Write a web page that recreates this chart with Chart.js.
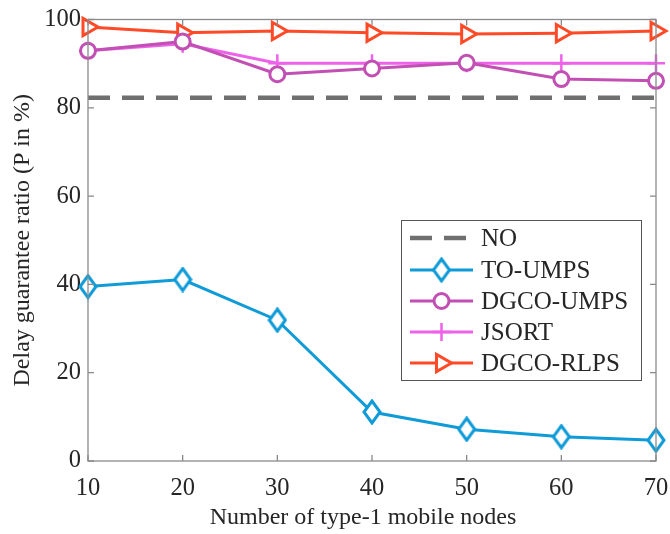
<!DOCTYPE html>
<html>
<head>
<meta charset="utf-8">
<script src="https://cdn.jsdelivr.net/npm/chart.js@4"></script>
<style>
html,body{margin:0;padding:0;background:#fff;}
#wrap{width:670px;height:534px;}
</style>
</head>
<body>
<div id="wrap"><canvas id="c" width="670" height="534"></canvas></div>
<script>
const categories = [10, 20, 30, 40, 50, 60, 70];
const noValues = [82.3, 82.3, 82.3, 82.3, 82.3, 82.3, 82.3];
const toUmps = [39.5, 41.1, 31.9, 11.1, 7.2, 5.5, 4.7];
const dgcoUmps = [92.9, 95.0, 87.6, 88.9, 90.2, 86.5, 86.1];
const jsort = [92.9, 94.5, 90.1, 90.1, 90.1, 90.1, 90.1];
const dgcoRlps = [98.3, 97.0, 97.4, 97.0, 96.7, 96.9, 97.4];
const yTicks = [0, 20, 40, 60, 80, 100];
const seriesNames = ['NO', 'TO-UMPS', 'DGCO-UMPS', 'JSORT', 'DGCO-RLPS'];
const xTitle = 'Number of type-1 mobile nodes';
const yTitle = 'Delay guarantee ratio (P in %)';

const FONT = '"Liberation Serif", "DejaVu Serif", serif';
const TXT = '#262626';
const AX = '#8a8a8a';

function diamond(color) {
  const c = document.createElement('canvas');
  c.width = 20; c.height = 26;
  const g = c.getContext('2d');
  g.beginPath();
  g.moveTo(10, 2); g.lineTo(18, 13); g.lineTo(10, 24); g.lineTo(2, 13); g.closePath();
  g.fillStyle = '#fff'; g.fill();
  g.lineWidth = 3; g.strokeStyle = color; g.stroke();
  return c;
}
const BLUE = '#0f9bd7', PURP = '#c24fb3', PINK = '#ee62ea', RED = '#ff4a28', GRAY = '#6f6f6f';
const diaImg = diamond(BLUE);

const xy = (arr) => arr.map((v, i) => ({x: categories[i], y: v}));

const boxPlugin = {
  id: 'box',
  afterDatasetsDraw(chart) {
    const {ctx, chartArea: a, scales} = chart;
    ctx.save();
    ctx.strokeStyle = AX; ctx.lineWidth = 1.3;
    ctx.strokeRect(a.left, a.top, a.right - a.left, a.bottom - a.top);
    const L = 6;
    ctx.beginPath();
    categories.forEach(v => {
      const x = scales.x.getPixelForValue(v);
      ctx.moveTo(x, a.bottom); ctx.lineTo(x, a.bottom - L);
      ctx.moveTo(x, a.top); ctx.lineTo(x, a.top + L);
    });
    yTicks.forEach(v => {
      const y = scales.y.getPixelForValue(v);
      ctx.moveTo(a.left, y); ctx.lineTo(a.left + L, y);
      ctx.moveTo(a.right, y); ctx.lineTo(a.right - L, y);
    });
    ctx.stroke();
    ctx.restore();
  },
  afterDraw(chart) {
    const {ctx} = chart;
    ctx.save();
    // x title
    ctx.fillStyle = TXT;
    ctx.font = '24px ' + FONT;
    ctx.textAlign = 'center'; ctx.textBaseline = 'middle';
    ctx.fillText(xTitle, 363, 518);
    // legend
    const bx = 401, by = 220, bw = 240, bh = 160;
    ctx.fillStyle = '#fff';
    ctx.fillRect(bx, by, bw, bh);
    ctx.strokeStyle = '#555'; ctx.lineWidth = 1;
    ctx.strokeRect(bx + 0.5, by + 0.5, bw, bh);
    const rows = [238, 270, 301, 332, 363];
    const x0 = 410, x1 = 473, xm = 441.5;
    chart.data.datasets.forEach((ds, i) => {
      const y = rows[i];
      ctx.strokeStyle = ds.borderColor; ctx.lineWidth = ds.borderWidth;
      ctx.setLineDash(ds.borderDash || []);
      ctx.beginPath(); ctx.moveTo(x0, y); ctx.lineTo(x1, y); ctx.stroke();
      ctx.setLineDash([]);
      if (ds.pointRadius > 0) {
        ctx.fillStyle = '#fff';
        ctx.strokeStyle = ds.borderColor;
        ctx.lineWidth = ds.pointBorderWidth;
        Chart.helpers.drawPoint(ctx, {
          pointStyle: ds.pointStyle, rotation: ds.pointRotation || 0,
          radius: ds.pointRadius, borderWidth: ds.pointBorderWidth
        }, xm, y);
      }
      ctx.fillStyle = TXT;
      ctx.font = '25px ' + FONT;
      ctx.textBaseline = 'middle'; ctx.textAlign = 'left';
      ctx.fillText(ds.label, 481, y + 1);
    });
    ctx.restore();
  }
};

const common = {fill: false, tension: 0, borderWidth: 3, pointBackgroundColor: '#fff', pointBorderWidth: 3};

const chart = new Chart(document.getElementById('c'), {
  type: 'line',
  data: {
    datasets: [
      Object.assign({}, common, {label: seriesNames[0], data: xy(noValues), borderColor: GRAY, borderWidth: 4.5, borderDash: [22, 12], pointRadius: 0}),
      Object.assign({}, common, {label: seriesNames[1], data: xy(toUmps), borderColor: BLUE, pointStyle: diaImg, pointRadius: 10}),
      Object.assign({}, common, {label: seriesNames[2], data: xy(dgcoUmps), borderColor: PURP, pointBorderColor: PURP, pointStyle: 'circle', pointRadius: 7.5}),
      Object.assign({}, common, {label: seriesNames[3], data: xy(jsort), borderColor: PINK, pointBorderColor: PINK, pointStyle: 'cross', pointRadius: 9, pointBorderWidth: 2.5}),
      Object.assign({}, common, {label: seriesNames[4], data: xy(dgcoRlps), borderColor: RED, pointBorderColor: RED, pointStyle: 'triangle', pointRotation: 90, pointRadius: 10})
    ]
  },
  options: {
    responsive: false,
    animation: false,
    clip: false,
    layout: {padding: {top: 19.5, right: 14, left: 0, bottom: 0}},
    plugins: {legend: {display: false}, tooltip: {enabled: false}},
    scales: {
      x: {
        type: 'linear', min: 10, max: 70,
        afterBuildTicks: (s) => { s.ticks = categories.map(v => ({value: v})); },
        afterFit: (s) => { s.height = 73; s.paddingLeft = 0; s.paddingRight = 0; },
        grid: {display: false, drawTicks: false},
        border: {display: false},
        ticks: {color: TXT, font: {family: FONT, size: 24.5}, padding: 13, maxRotation: 0},
        title: {display: false}
      },
      y: {
        type: 'linear', min: 0, max: 100,
        afterBuildTicks: (s) => { s.ticks = yTicks.map(v => ({value: v})); },
        afterFit: (s) => { s.width = 88; s.paddingTop = 0; s.paddingBottom = 0; },
        grid: {display: false, drawTicks: false},
        border: {display: false},
        ticks: {color: TXT, font: {family: FONT, size: 24.5}, padding: 7},
        title: {display: true, text: yTitle, color: TXT, font: {family: FONT, size: 24}, padding: {top: 8, bottom: 0}}
      }
    }
  },
  plugins: [boxPlugin]
});
</script>
</body>
</html>
